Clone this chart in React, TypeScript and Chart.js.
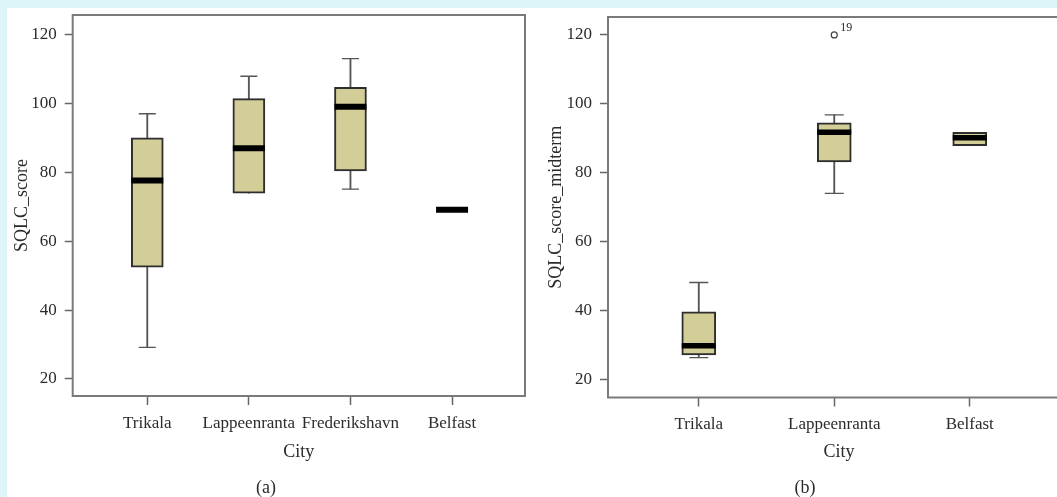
import React, { useEffect, useRef } from "react";
import { Chart, registerables } from "chart.js";

Chart.register(...registerables);

// ---- Panel (a) data ----
const citiesA = ["Trikala", "Lappeenranta", "Frederikshavn", "Belfast"];
const whiskerLowA: (number | null)[] = [29.2, 74.0, 75.2, null];
const q1A: (number | null)[] = [52.5, 74.0, 80.5, null];
const medianA: number[] = [77.7, 87.1, 99.1, 69.2];
const q3A: (number | null)[] = [90.1, 101.5, 104.8, null];
const whiskerHighA: (number | null)[] = [97.1, 108.0, 113.1, null];

// ---- Panel (b) data ----
const citiesB = ["Trikala", "Lappeenranta", "Belfast"];
const whiskerLowB: (number | null)[] = [26.3, 74.0, null];
const q1B: (number | null)[] = [27.1, 83.1, 87.8];
const medianB: number[] = [29.7, 91.7, 90.1];
const q3B: (number | null)[] = [39.6, 94.5, 91.7];
const whiskerHighB: (number | null)[] = [48.1, 96.8, null];
const outlierCityB = [1];
const outlierValueB = [120];
const outlierLabelB = ["19"];

const yTicks = [20, 40, 60, 80, 100, 120];

const FONT = "'Liberation Serif', 'DejaVu Serif', serif";
const TEXT = "#2b2b2b";
const BOX_FILL = "#d3cd98";
const BOX_LINE = "#2d2d2d";
const WHISKER = "#555555";
const FRAME = "#7a7a7a";

const framePlugin = {
  id: "frame",
  beforeDatasetsDraw(chart: any) {
    const { ctx, chartArea } = chart;
    ctx.save();
    ctx.strokeStyle = FRAME;
    ctx.lineWidth = 2;
    ctx.strokeRect(chartArea.left, chartArea.top, chartArea.right - chartArea.left, chartArea.bottom - chartArea.top);
    ctx.restore();
  },
};

const outlierLabelPlugin = {
  id: "outlierLabels",
  afterDatasetsDraw(chart: any) {
    const { ctx } = chart;
    chart.data.datasets.forEach((ds: any, di: number) => {
      if (!ds.outlierLabels) return;
      const meta = chart.getDatasetMeta(di);
      meta.data.forEach((el: any, i: number) => {
        ctx.save();
        ctx.font = `12px ${FONT}`;
        ctx.fillStyle = TEXT;
        ctx.textAlign = "left";
        ctx.textBaseline = "alphabetic";
        ctx.fillText(ds.outlierLabels[i], el.x + 6, el.y - 4);
        ctx.restore();
      });
    });
  },
};

function buildDatasets(
  cats: string[],
  lo: (number | null)[],
  q1: (number | null)[],
  med: number[],
  q3: (number | null)[],
  hi: (number | null)[],
  boxW: number,
  capR: number,
  medW: number,
  outX: number[] = [],
  outY: number[] = [],
  outL: string[] = []
) {
  const idx = cats.map((_, i) => i);
  const whiskers = idx
    .filter((i) => lo[i] != null && hi[i] != null)
    .map((i) => ({ x: i, y: [lo[i], hi[i]] }));
  const caps: { x: number; y: number }[] = [];
  idx.forEach((i) => {
    if (hi[i] != null && hi[i] !== q3[i]) caps.push({ x: i, y: hi[i] as number });
    if (lo[i] != null && lo[i] !== q1[i]) caps.push({ x: i, y: lo[i] as number });
  });
  const boxes = idx
    .filter((i) => q1[i] != null && q3[i] != null)
    .map((i) => ({ x: i, y: [q1[i], q3[i]] }));
  const medians = idx.map((i) => ({ x: i, y: med[i] }));
  const outliers = outX.map((x, i) => ({ x, y: outY[i] }));

  const ds: any[] = [
    {
      type: "bar",
      data: whiskers,
      barThickness: 1.2,
      backgroundColor: WHISKER,
      borderWidth: 0,
      grouped: false,
      order: 4,
    },
    {
      type: "bar",
      data: boxes,
      barThickness: boxW,
      backgroundColor: BOX_FILL,
      borderColor: BOX_LINE,
      borderWidth: 2,
      borderSkipped: false,
      grouped: false,
      order: 3,
    },
    {
      type: "line",
      data: caps,
      showLine: false,
      pointStyle: "line",
      pointRadius: capR,
      pointBorderWidth: 1.3,
      borderColor: WHISKER,
      order: 2,
    },
    {
      type: "line",
      data: medians,
      showLine: false,
      pointStyle: "line",
      pointRadius: boxW / 2,
      pointBorderWidth: medW,
      borderColor: "#000000",
      order: 1,
    },
  ];
  if (outliers.length) {
    ds.push({
      type: "line",
      data: outliers,
      showLine: false,
      pointStyle: "circle",
      pointRadius: 3,
      pointBorderWidth: 1.2,
      pointBackgroundColor: "#ffffff",
      borderColor: "#444444",
      outlierLabels: outL,
      order: 0,
    });
  }
  return ds;
}

function makeConfig(p: {
  cats: string[];
  datasets: any[];
  xMin: number;
  xMax: number;
  yMin: number;
  yMax: number;
  yTitle: string;
  yTitlePad: number;
  yAxisWidth: number;
  xAxisHeight: number;
  padTop: number;
  padRight: number;
  label: string;
}): any {
  const font = { family: FONT, size: 18 };
  const tickFont = { family: FONT, size: 17 };
  return {
    type: "bar",
    data: { datasets: p.datasets },
    plugins: [framePlugin, outlierLabelPlugin],
    options: {
      animation: false,
      responsive: false,
      maintainAspectRatio: false,
      events: [],
      layout: { autoPadding: false, padding: { top: p.padTop, right: p.padRight, left: 0, bottom: 0 } },
      plugins: {
        legend: { display: false },
        tooltip: { enabled: false },
        title: {
          display: true,
          text: p.label,
          position: "bottom",
          color: TEXT,
          font: { family: FONT, size: 18, lineHeight: 1, weight: "normal" },
          padding: 0,
        },
      },
      scales: {
        x: {
          type: "linear",
          offset: false,
          min: p.xMin,
          max: p.xMax,
          afterBuildTicks: (s: any) => {
            s.ticks = p.cats.map((_, i) => ({ value: i }));
          },
          afterFit: (s: any) => {
            s.height = p.xAxisHeight;
            s.paddingLeft = 0;
            s.paddingRight = 0;
            s.paddingTop = 0;
            s.paddingBottom = 0;
          },
          ticks: {
            callback: (v: any) => p.cats[Math.round(Number(v))],
            font: tickFont,
            color: TEXT,
            padding: 8,
            autoSkip: false,
            maxRotation: 0,
          },
          grid: { offset: false, drawOnChartArea: false, drawTicks: true, tickLength: 9, tickColor: "#666", tickWidth: 1.5 },
          border: { display: false },
          title: { display: true, text: "City", font, color: TEXT, padding: { top: 0, bottom: 16 } },
        },
        y: {
          type: "linear",
          min: p.yMin,
          max: p.yMax,
          afterBuildTicks: (s: any) => {
            s.ticks = yTicks.map((v) => ({ value: v }));
          },
          afterFit: (s: any) => {
            s.width = p.yAxisWidth;
            s.paddingLeft = 0;
            s.paddingRight = 0;
            s.paddingTop = 0;
            s.paddingBottom = 0;
          },
          ticks: { font: tickFont, color: TEXT, padding: 8 },
          grid: { drawOnChartArea: false, drawTicks: true, tickLength: 8, tickColor: "#666", tickWidth: 1.5 },
          border: { display: false },
          title: { display: true, text: p.yTitle, font, color: TEXT, padding: { top: p.yTitlePad, bottom: 0 } },
        },
      },
    },
  };
}

export default function App() {
  const refA = useRef<HTMLCanvasElement>(null);
  const refB = useRef<HTMLCanvasElement>(null);

  useEffect(() => {
    const dsA = buildDatasets(citiesA, whiskerLowA, q1A, medianA, q3A, whiskerHighA, 32, 8.5, 6);
    const dsB = buildDatasets(
      citiesB, whiskerLowB, q1B, medianB, q3B, whiskerHighB, 34, 9.5, 5.5,
      outlierCityB, outlierValueB, outlierLabelB
    );
    const a = new Chart(
      refA.current as HTMLCanvasElement,
      makeConfig({
        cats: citiesA, datasets: dsA, xMin: -0.734, xMax: 3.718, yMin: 15.05, yMax: 125.8,
        yTitle: "SQLC_score", yTitlePad: 4, yAxisWidth: 65.7, xAxisHeight: 83, padTop: 7, padRight: 15, label: "(a)",
      })
    );
    const b = new Chart(
      refB.current as HTMLCanvasElement,
      makeConfig({
        cats: citiesB, datasets: dsB, xMin: -0.67, xMax: 2.74, yMin: 14.7, yMax: 125.2,
        yTitle: "SQLC_score_midterm", yTitlePad: 5, yAxisWidth: 68, xAxisHeight: 81.5, padTop: 9, padRight: 0, label: "(b)",
      })
    );
    return () => {
      a.destroy();
      b.destroy();
    };
  }, []);

  return (
    <div style={{ position: "fixed", left: 0, top: 0, width: 1057, height: 497, overflow: "hidden", background: "#ddf4f9" }}>
      <div style={{ position: "absolute", left: 7, top: 8, width: 1050, height: 489, background: "#ffffff" }} />
      <canvas ref={refA} width={533} height={489} style={{ position: "absolute", left: 7, top: 8 }} />
      <canvas ref={refB} width={530} height={489} style={{ position: "absolute", left: 540, top: 8 }} />
    </div>
  );
}
